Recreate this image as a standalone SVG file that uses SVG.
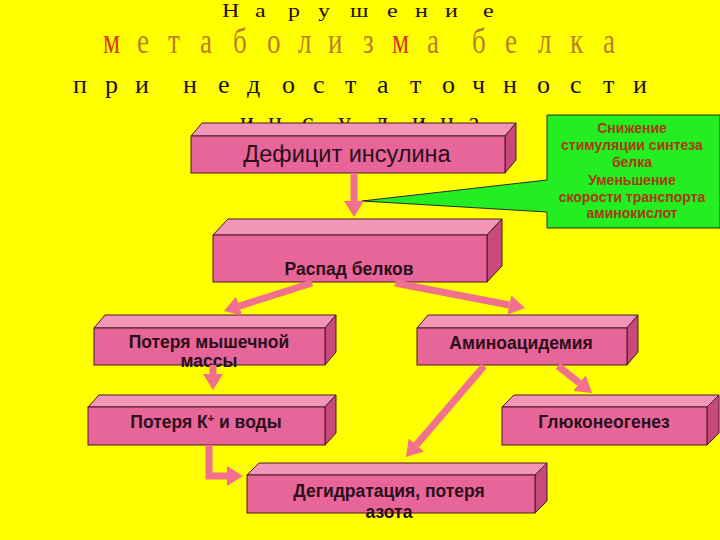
<svg xmlns="http://www.w3.org/2000/svg" width="720" height="540" viewBox="0 0 720 540">
<defs>
<style>
.ttl{font-family:"Liberation Serif","DejaVu Serif",serif;fill:#1e1010}
.t2{fill:#b8802a}
.t2m{fill:#d83a18}
.front{fill:#e8659a;stroke:#4a1828;stroke-width:1}
.top{fill:#f296b8;stroke:#4a1828;stroke-width:1}
.side{fill:#c84a7c;stroke:#4a1828;stroke-width:1}
.lbl{font-family:"Liberation Sans",Arial,sans-serif;font-weight:bold;font-size:17.5px;fill:#2a0e1a;text-anchor:middle}
.big{font-weight:normal;font-size:23.5px}
.call{font-family:"Liberation Sans",Arial,sans-serif;font-weight:bold;font-size:14px;fill:#a83a12;text-anchor:middle}
.con{fill:none;stroke:#f0708e;stroke-width:7}
</style>
<marker id="ah" markerUnits="userSpaceOnUse" viewBox="0 0 16 20" refX="0" refY="10" markerWidth="16" markerHeight="20" orient="auto">
<path d="M0,0 L16,10 L0,20 Z" fill="#f0708e"/>
</marker>
</defs>
<rect width="720" height="540" fill="#ffff00"/>
<g id="title">
<text class="ttl" font-size="24" transform="translate(0,17) scale(1,0.8)" x="222 255 288 318 350 387 415 445 483" y="0">Нарушение</text>
<g transform="translate(0,53) scale(1,1.3)" class="ttl" font-size="27">
<text x="103 137 168 200 233 267 298 328 363 392 427" y="0"><tspan class="t2m">м</tspan><tspan class="t2">етаболиз</tspan><tspan class="t2m">м</tspan><tspan class="t2">а</tspan></text>
<text class="t2" x="472 505 538 570 603" y="0">белка</text>
</g>
<text class="ttl" font-size="26" x="73 105 135" y="93">при</text>
<text class="ttl" font-size="26" x="183 218 247 282 313 345 377 410 442 472 503 537 570 603 633" y="93">недостаточности</text>
<text class="ttl" font-size="26" x="240 268 302 338 375 412 440 468" y="130">инсулина</text>
</g>
<g id="callout">
<path d="M547,115 H720 V228 H547 V212 L362,201 L547,180 Z" fill="#22ee22" stroke="#2a2a2a" stroke-width="1"/>
<text class="call" x="632" y="133">Снижение</text>
<text class="call" x="632" y="150">стимуляции синтеза</text>
<text class="call" x="632" y="167">белка</text>
<text class="call" x="632" y="185">Уменьшение</text>
<text class="call" x="632" y="202">скорости транспорта</text>
<text class="call" x="632" y="218">аминокислот</text>
</g>
<g id="deficit">
<polygon class="top" points="191,136 202,123 516,123 505,136"/>
<polygon class="side" points="505,136 516,123 516,160 505,173"/>
<rect class="front" x="191" y="136" width="314" height="37"/>
<text class="lbl big" x="347" y="162">Дефицит инсулина</text>
</g>
<g id="raspad">
<polygon class="top" points="213,235 228,219 502,219 487,235"/>
<polygon class="side" points="487,235 502,219 502,266 487,282"/>
<rect class="front" x="213" y="235" width="274" height="47"/>
<text class="lbl" x="349" y="275">Распад белков</text>
</g>
<g id="muscle">
<polygon class="top" points="94,328 105,315 336,315 325,328"/>
<polygon class="side" points="325,328 336,315 336,352 325,365"/>
<rect class="front" x="94" y="328" width="231" height="37"/>
<text class="lbl" x="209" y="348">Потеря мышечной</text>
<text class="lbl" x="209" y="367">массы</text>
</g>
<g id="kwater">
<polygon class="top" points="88,407 99,395 336,395 325,407"/>
<polygon class="side" points="325,407 336,395 336,433 325,445"/>
<rect class="front" x="88" y="407" width="237" height="38"/>
<text class="lbl" x="206" y="428">Потеря К<tspan font-size="11" dy="-6">+</tspan><tspan dy="6"> и воды</tspan></text>
</g>
<g id="amino">
<polygon class="top" points="417,328 428,315 638,315 627,328"/>
<polygon class="side" points="627,328 638,315 638,352 627,365"/>
<rect class="front" x="417" y="328" width="210" height="37"/>
<text class="lbl" x="521" y="349">Аминоацидемия</text>
</g>
<g id="gluco">
<polygon class="top" points="502,407 514,395 719,395 707,407"/>
<polygon class="side" points="707,407 719,395 719,433 707,445"/>
<rect class="front" x="502" y="407" width="205" height="38"/>
<text class="lbl" x="604" y="428">Глюконеогенез</text>
</g>
<g id="dehydr">
<polygon class="top" points="247,475 259,463 547,463 535,475"/>
<polygon class="side" points="535,475 547,463 547,501 535,513"/>
<rect class="front" x="247" y="475" width="288" height="38"/>
<text class="lbl" x="389" y="497">Дегидратация, потеря</text>
<text class="lbl" x="389" y="518">азота</text>
</g>
<g id="connectors">
<path class="con" marker-end="url(#ah)" d="M354,173 L354,201"/>
<path class="con" marker-end="url(#ah)" d="M312,283 L239.2,306.1"/>
<path class="con" marker-end="url(#ah)" d="M395,283 L509.3,305"/>
<path class="con" marker-end="url(#ah)" d="M213,365 L213,374"/>
<path class="con" marker-end="url(#ah)" d="M558,366 L579.5,383"/>
<path class="con" marker-end="url(#ah)" d="M484,366 L416.4,444.9"/>
<path class="con" marker-end="url(#ah)" d="M209,445 V476 H227"/>
</g>
</svg>
